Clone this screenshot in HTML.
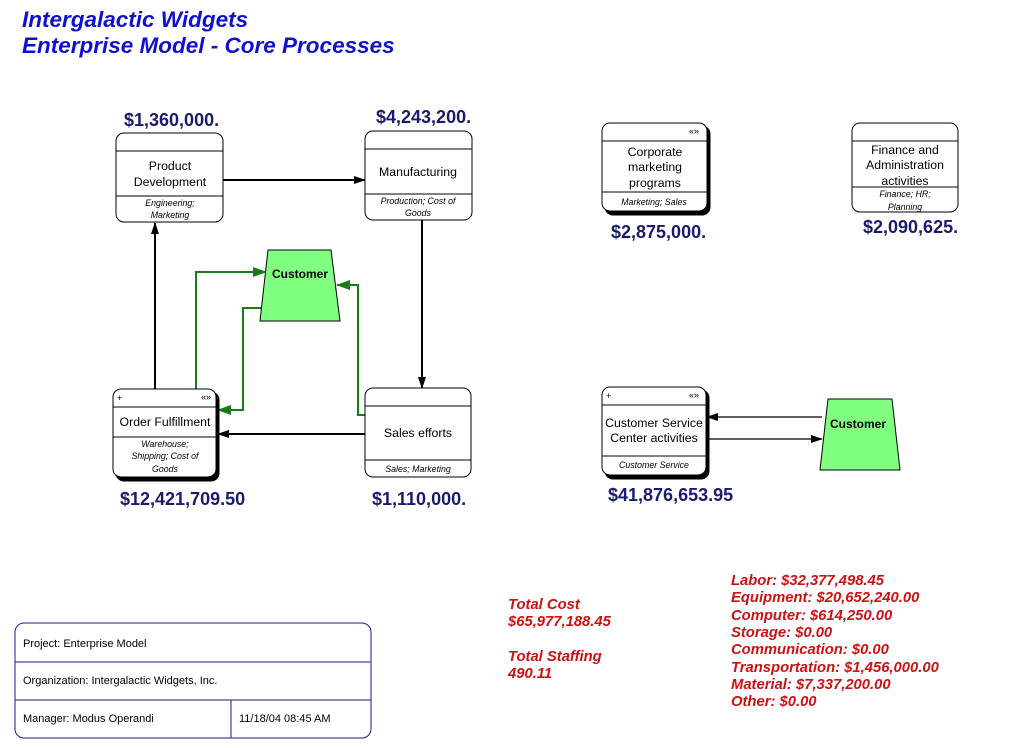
<!DOCTYPE html>
<html><head><meta charset="utf-8"><style>
html,body{margin:0;padding:0;background:#fff;}
svg{display:block;font-family:"Liberation Sans",Arial,sans-serif;}
</style></head><body>
<svg width="1017" height="748" viewBox="0 0 1017 748" xmlns="http://www.w3.org/2000/svg">
<defs>
<marker id="ab" markerWidth="12" markerHeight="8" refX="11" refY="4" orient="auto" markerUnits="userSpaceOnUse"><path d="M0,0 L12,4 L0,8 z" fill="#000"/></marker>
<marker id="ag" markerWidth="14" markerHeight="10" refX="13" refY="5" orient="auto" markerUnits="userSpaceOnUse"><path d="M0,0 L14,5 L0,10 z" fill="#1a7a1a"/></marker>
</defs>
<text x="22" y="27" font-size="22.5" font-weight="bold" font-style="italic" fill="#1010d0">Intergalactic Widgets</text>
<text x="22" y="53" font-size="22.5" font-weight="bold" font-style="italic" fill="#1010d0">Enterprise Model - Core Processes</text>

<g font-weight="bold" font-size="18" fill="#1a1a6e">
<text x="124" y="126">$1,360,000.</text>
<text x="376" y="123">$4,243,200.</text>
<text x="611" y="238">$2,875,000.</text>
<text x="863" y="233">$2,090,625.</text>
<text x="120" y="505">$12,421,709.50</text>
<text x="372" y="505">$1,110,000.</text>
<text x="608" y="501">$41,876,653.95</text>
</g>

<g stroke="#000" stroke-width="2" fill="none">
<line x1="223" y1="180" x2="365" y2="180" marker-end="url(#ab)"/>
<line x1="422" y1="220" x2="422" y2="388" marker-end="url(#ab)"/>
<line x1="365" y1="434" x2="218" y2="434" marker-end="url(#ab)"/>
<line x1="155" y1="389" x2="155" y2="223" marker-end="url(#ab)"/>
</g>
<g stroke="#000" stroke-width="1.3" fill="none">
<line x1="822" y1="417" x2="707" y2="417" marker-end="url(#ab)"/>
<line x1="707" y1="439" x2="822" y2="439" marker-end="url(#ab)"/>
</g>
<g stroke="#1a7a1a" stroke-width="2" fill="none">
<polyline points="196,389 196,272 266,272" marker-end="url(#ag)"/>
<polyline points="262,308 243,308 243,410 218,410" marker-end="url(#ag)"/>
<polyline points="365,415 358,415 358,285 337,285" marker-end="url(#ag)"/>
</g>

<polygon points="268,250 331,250 340,321 260,321" fill="#80ff80" stroke="#000" stroke-width="1"/>
<text x="300" y="278" font-size="12" font-weight="bold" text-anchor="middle">Customer</text>
<polygon points="828,399 892,399 900,470 820,470" fill="#80ff80" stroke="#000" stroke-width="1"/>
<text x="858" y="428" font-size="12" font-weight="bold" text-anchor="middle">Customer</text>

<g fill="#fff" stroke="#000" stroke-width="1">
<rect x="116" y="133" width="107" height="89" rx="8"/>
<line x1="116" y1="151" x2="223" y2="151"/><line x1="116" y1="196" x2="223" y2="196"/>
<rect x="365" y="131" width="107" height="89" rx="8"/>
<line x1="365" y1="149" x2="472" y2="149"/><line x1="365" y1="194" x2="472" y2="194"/>
<rect x="116" y="392" width="103" height="89" rx="8" fill="#000"/>
<rect x="113" y="389" width="103" height="88" rx="8"/>
<line x1="113" y1="407" x2="216" y2="407"/><line x1="113" y1="437" x2="216" y2="437"/>
<rect x="365" y="388" width="106" height="89" rx="8"/>
<line x1="365" y1="406" x2="471" y2="406"/><line x1="365" y1="460" x2="471" y2="460"/>
<rect x="605" y="126" width="105" height="89" rx="8" fill="#000"/>
<rect x="602" y="123" width="105" height="88" rx="8"/>
<line x1="602" y1="141" x2="707" y2="141"/><line x1="602" y1="192" x2="707" y2="192"/>
<rect x="852" y="123" width="106" height="89" rx="8"/>
<line x1="852" y1="141" x2="958" y2="141"/><line x1="852" y1="187" x2="958" y2="187"/>
<rect x="605" y="390" width="104" height="89" rx="8" fill="#000"/>
<rect x="602" y="387" width="104" height="88" rx="8"/>
<line x1="602" y1="405" x2="706" y2="405"/><line x1="602" y1="456" x2="706" y2="456"/>
</g>

<g font-size="12.3" text-anchor="middle" fill="#000">
<text x="170" y="170">Product</text><text x="170" y="186">Development</text>
<text x="418" y="176">Manufacturing</text>
<text x="165" y="426">Order Fulfillment</text>
<text x="418" y="437">Sales efforts</text>
<text x="655" y="156">Corporate</text><text x="655" y="171">marketing</text><text x="655" y="187">programs</text>
<text x="905" y="154">Finance and</text><text x="905" y="169">Administration</text><text x="905" y="185">activities</text>
<text x="654" y="427">Customer Service</text><text x="654" y="442">Center activities</text>
</g>
<g font-size="8.8" font-style="italic" text-anchor="middle" fill="#000">
<text x="170" y="206">Engineering;</text><text x="170" y="218">Marketing</text>
<text x="418" y="204">Production; Cost of</text><text x="418" y="216">Goods</text>
<text x="165" y="447">Warehouse;</text><text x="165" y="459">Shipping; Cost of</text><text x="165" y="472">Goods</text>
<text x="418" y="472">Sales; Marketing</text>
<text x="654" y="205">Marketing; Sales</text>
<text x="905" y="197">Finance; HR;</text><text x="905" y="210">Planning</text>
<text x="654" y="468">Customer Service</text>
</g>
<g font-size="9" fill="#000">
<text x="117" y="401">+</text><text x="201" y="400">«»</text>
<text x="689" y="134">«»</text>
<text x="606" y="399">+</text><text x="689" y="398">«»</text>
</g>

<g stroke="#1a1a8a" stroke-width="1" fill="none">
<rect x="15" y="623" width="356" height="115" rx="9"/>
<line x1="15" y1="662" x2="371" y2="662"/><line x1="15" y1="700" x2="371" y2="700"/>
<line x1="231" y1="700" x2="231" y2="738"/>
</g>
<g font-size="11" fill="#000">
<text x="23" y="647">Project:  Enterprise Model</text>
<text x="23" y="684">Organization:  Intergalactic Widgets, Inc.</text>
<text x="23" y="722">Manager:  Modus Operandi</text>
<text x="239" y="722">11/18/04 08:45 AM</text>
</g>

<g font-size="14.8" font-weight="bold" font-style="italic" fill="#cc1111">
<text x="508" y="609">Total Cost</text>
<text x="508" y="626">$65,977,188.45</text>
<text x="508" y="661">Total Staffing</text>
<text x="508" y="678">490.11</text>
<text x="731" y="585">Labor:  $32,377,498.45</text>
<text x="731" y="602">Equipment:  $20,652,240.00</text>
<text x="731" y="620">Computer:  $614,250.00</text>
<text x="731" y="637">Storage:  $0.00</text>
<text x="731" y="654">Communication:  $0.00</text>
<text x="731" y="672">Transportation:  $1,456,000.00</text>
<text x="731" y="689">Material:  $7,337,200.00</text>
<text x="731" y="706">Other:  $0.00</text>
</g>
</svg>
</body></html>
